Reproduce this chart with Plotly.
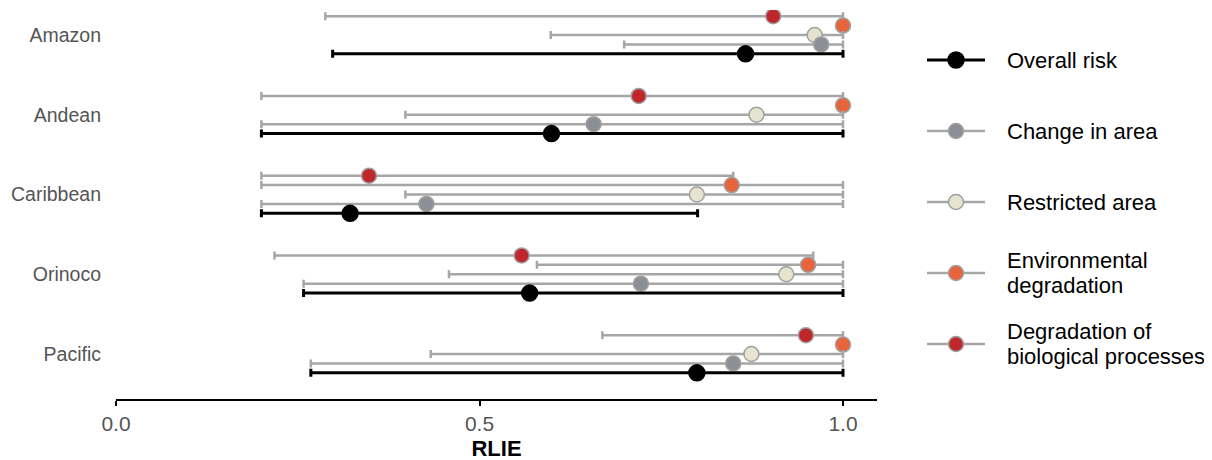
import plotly.graph_objects as go

# ---------------- data ----------------
categories = ["Amazon", "Andean", "Caribbean", "Orinoco", "Pacific"]

legend_labels = [["Overall risk"], ["Change in area"], ["Restricted area"],
                 ["Environmental", "degradation"], ["Degradation of", "biological processes"]]

bio_mid = [0.904, 0.719, 0.348, 0.558, 0.949]
bio_low = [0.288, 0.200, 0.200, 0.218, 0.669]
bio_high = [1.0, 1.0, 0.849, 0.959, 1.0]

env_mid = [1.0, 1.0, 0.847, 0.952, 1.0]
env_low = [1.0, 1.0, 0.200, 0.579, 1.0]
env_high = [1.0, 1.0, 1.0, 1.0, 1.0]

restr_mid = [0.961, 0.881, 0.799, 0.922, 0.874]
restr_low = [0.598, 0.398, 0.398, 0.458, 0.433]
restr_high = [1.0, 1.0, 1.0, 1.0, 1.0]

change_mid = [0.970, 0.657, 0.427, 0.722, 0.849]
change_low = [0.699, 0.200, 0.200, 0.258, 0.268]
change_high = [1.0, 1.0, 1.0, 1.0, 1.0]

overall_mid = [0.866, 0.599, 0.322, 0.569, 0.799]
overall_low = [0.298, 0.200, 0.200, 0.258, 0.268]
overall_high = [1.0, 1.0, 0.800, 1.0, 1.0]

x_ticks = [0.0, 0.5, 1.0]
x_tick_labels = ["0.0", "0.5", "1.0"]

# ---------------- styles ----------------
W, H = 1212, 460
OFF = 8  # page body margin
FONT = "Liberation Sans, Arial, sans-serif"
fills = {"bio": "#C0272D", "env": "#E8643A", "restr": "#E6E4CF",
         "change": "#8C9096", "overall": "#000000"}
GREY = "#A6A6A6"
OUTLINE = "#A0A0A0"
offset = 0.118

series = [
    ("bio", bio_mid, bio_low, bio_high, 2),
    ("env", env_mid, env_low, env_high, 1),
    ("restr", restr_mid, restr_low, restr_high, 0),
    ("change", change_mid, change_low, change_high, -1),
    ("overall", overall_mid, overall_low, overall_high, -2),
]

n = len(categories)
base_y = [n - i for i in range(n)]  # Amazon at top

fig = go.Figure()
for key, mid, lo, hi, k in series:
    is_overall = key == "overall"
    lc = "#000000" if is_overall else GREY
    fig.add_trace(go.Scatter(
        x=mid, y=[b + k * offset for b in base_y], mode="markers",
        marker=dict(size=16 if is_overall else 15, color=fills[key],
                    line=dict(color="#000000" if is_overall else OUTLINE, width=1.5)),
        error_x=dict(type="data", symmetric=False,
                     array=[h - m for h, m in zip(hi, mid)],
                     arrayminus=[m - l for m, l in zip(mid, lo)],
                     color=lc, thickness=3 if is_overall else 2.5, width=4),
        hoverinfo="skip", showlegend=False,
    ))

# ---------------- manual legend (second invisible axes) ----------------
leg_keys = ["overall", "change", "restr", "env", "bio"]
leg_y0, leg_dy, line_gap = 60 - OFF, 71, 25
for i, key in enumerate(leg_keys):
    yy = leg_y0 + i * leg_dy
    is_overall = key == "overall"
    lc = "#000000" if is_overall else GREY
    fig.add_trace(go.Scatter(
        x=[0, 1], y=[yy, yy], mode="lines", xaxis="x2", yaxis="y2",
        line=dict(color=lc, width=3 if is_overall else 2.5),
        hoverinfo="skip", showlegend=False))
    fig.add_trace(go.Scatter(
        x=[0.5], y=[yy], mode="markers", xaxis="x2", yaxis="y2",
        marker=dict(size=16 if is_overall else 15, color=fills[key],
                    line=dict(color="#000000" if is_overall else OUTLINE, width=1.5)),
        hoverinfo="skip", showlegend=False))
    lines = legend_labels[i]
    for j, txt in enumerate(lines):
        ty = yy + (j - (len(lines) - 1) / 2) * line_gap
        fig.add_annotation(x=(1005 - OFF) / W, y=1 - ty / H, xref="paper", yref="paper",
                           text=txt, showarrow=False, xanchor="left",
                           yanchor="middle", align="left",
                           font=dict(size=22, color="#000000", family=FONT))

# ---------------- layout ----------------
px0, px1 = 116 - OFF, 877 - OFF
px_one = 843 - OFF
py_top, py_bot = 10 - OFF, 399 - OFF
y_amazon_px, cat_px = 35 - OFF, 79.75

ymax = n + (y_amazon_px - py_top) / cat_px
ymin = n - (py_bot - y_amazon_px) / cat_px

fig.update_layout(
    width=W, height=H,
    margin=dict(l=0, r=0, t=0, b=0),
    paper_bgcolor="white", plot_bgcolor="white",
    font=dict(family=FONT),
    xaxis=dict(domain=[px0 / W, px1 / W], range=[0, (px1 - px0) / (px_one - px0)],
               tickvals=x_ticks, ticktext=x_tick_labels,
               showgrid=False, zeroline=False, showline=True, linecolor="#000000",
               linewidth=2, ticks="outside", ticklen=5, tickwidth=1.5, tickcolor="#000000",
               tickfont=dict(size=21, color="#555555"),
               title=dict(text="<b>RLIE</b>", font=dict(size=22, color="#000000"), standoff=6),
               automargin=False, fixedrange=True),
    yaxis=dict(domain=[1 - py_bot / H, 1 - py_top / H], range=[ymin, ymax],
               tickvals=base_y, ticktext=categories,
               showgrid=False, zeroline=False, showline=False, ticks="",
               ticklabelstandoff=14,
               tickfont=dict(size=19.5, color="#555555"),
               automargin=False, fixedrange=True),
    xaxis2=dict(domain=[(927 - OFF) / W, (985 - OFF) / W], range=[0, 1],
                visible=False, fixedrange=True, anchor="y2"),
    yaxis2=dict(domain=[0, 1], range=[H, 0], visible=False, fixedrange=True, anchor="x2"),
)

fig.write_html("out.html")
